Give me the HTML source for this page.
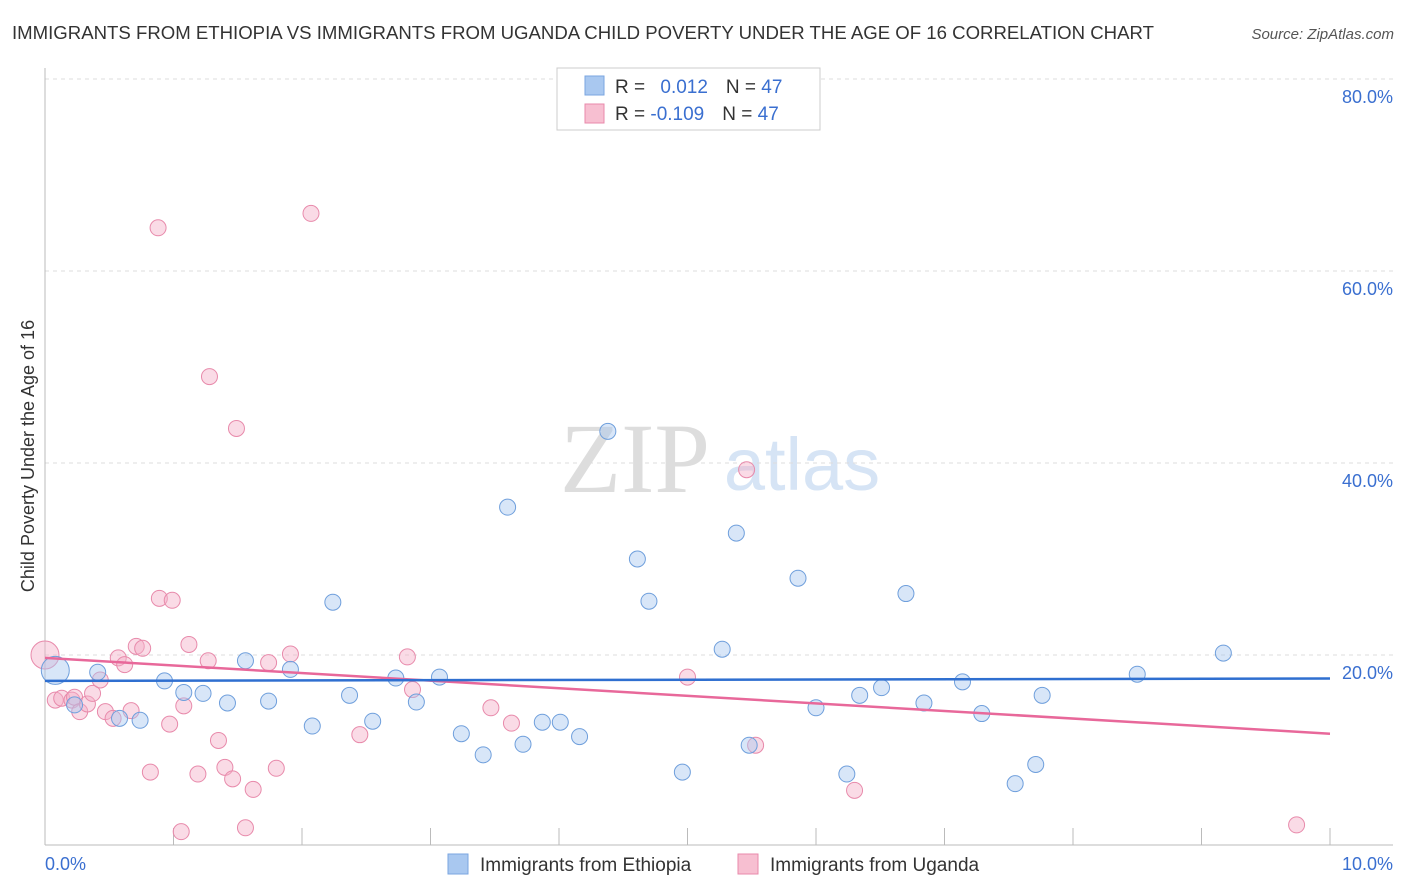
<!DOCTYPE html>
<html><head><meta charset="utf-8"><style>
body{margin:0;background:#fff;font-family:"Liberation Sans",sans-serif;}
svg{display:block}
</style></head><body>
<svg width="1406" height="892">
<text x="12" y="39" font-size="18.6" fill="#333">IMMIGRANTS FROM ETHIOPIA VS IMMIGRANTS FROM UGANDA CHILD POVERTY UNDER THE AGE OF 16 CORRELATION CHART</text>
<text x="1394" y="39" font-size="15" fill="#555" font-style="italic" text-anchor="end">Source: ZipAtlas.com</text>
<text x="635" y="492" font-size="100" fill="#ddd" font-family="Liberation Serif,serif" text-anchor="middle">ZIP</text>
<text x="802" y="490" font-size="74" fill="#d6e4f5" text-anchor="middle">atlas</text>
<g id="grid"></g>
<g id="axes"></g>
<text transform="translate(34,456) rotate(-90)" font-size="18" fill="#333" text-anchor="middle">Child Poverty Under the Age of 16</text>
<g id="marks"></g>
<g>
<rect x="557" y="68" width="263" height="62" fill="#fff" stroke="#ccc"/>
<rect x="585" y="76" width="19" height="19" fill="#a9c8f0" stroke="#7aa6e0"/>
<rect x="585" y="104" width="19" height="19" fill="#f7bfd1" stroke="#e88aab"/>
<text x="615" y="93" font-size="19" fill="#333">R = <tspan fill="#3a6fd0" dx="10">0.012</tspan><tspan dx="18" fill="#333">N = </tspan><tspan fill="#3a6fd0">47</tspan></text>
<text x="615" y="120" font-size="19" fill="#333">R = <tspan fill="#3a6fd0">-0.109</tspan><tspan dx="18" fill="#333">N = </tspan><tspan fill="#3a6fd0">47</tspan></text>
</g>
<g>
<rect x="448" y="854" width="20" height="20" fill="#a9c8f0" stroke="#7aa6e0"/>
<text x="480" y="871" font-size="19" fill="#333">Immigrants from Ethiopia</text>
<rect x="738" y="854" width="20" height="20" fill="#f7bfd1" stroke="#e88aab"/>
<text x="770" y="871" font-size="19" fill="#333">Immigrants from Uganda</text>
</g>
</svg>
<script>
const ethX=[0.08,0.41,0.23,0.58,0.74,0.93,1.08,1.23,1.42,1.56,1.74,1.91,2.08,2.24,2.37,2.55,2.73,2.89,3.07,3.24,3.41,3.60,3.72,3.87,4.01,4.16,4.38,4.61,4.70,4.96,5.27,5.38,5.48,5.86,6.00,6.24,6.34,6.51,6.70,6.84,7.14,7.29,7.55,7.71,7.76,8.50,9.17];
const ethY=[18.4,18.2,14.8,13.4,13.2,17.3,16.1,16.0,15.0,19.4,15.2,18.5,12.6,25.5,15.8,13.1,17.6,15.1,17.7,11.8,9.6,35.4,10.7,13.0,13.0,11.5,43.3,30.0,25.6,7.8,20.6,32.7,10.6,28.0,14.5,7.6,15.8,16.6,26.4,15.0,17.2,13.9,6.6,8.6,15.8,18.0,20.2];
const ugaX=[0.00,0.08,0.13,0.21,0.23,0.27,0.33,0.37,0.43,0.47,0.53,0.57,0.62,0.67,0.71,0.76,0.82,0.88,0.89,0.99,0.97,1.06,1.08,1.12,1.19,1.27,1.28,1.35,1.40,1.46,1.49,1.56,1.62,1.74,1.80,1.91,2.07,2.45,2.82,2.86,3.47,3.63,5.00,5.46,5.53,6.30,9.74];
const ugaY=[20.0,15.3,15.5,15.3,15.6,14.1,14.9,16.0,17.4,14.1,13.4,19.7,19.0,14.2,20.9,20.7,7.8,64.5,25.9,25.7,12.8,1.6,14.7,21.1,7.6,19.4,49.0,11.1,8.3,7.1,43.6,2.0,6.0,19.2,8.2,20.1,66.0,11.7,19.8,16.4,14.5,12.9,17.7,39.3,10.6,5.9,2.3];
const ethTrend=[17.3,17.55];
const ugaTrend=[19.7,11.8];
const yTicks=[20,40,60,80];
const yTickLabels=["20.0%","40.0%","60.0%","80.0%"];
const xTickLabels=["0.0%","10.0%"];
const NS="http://www.w3.org/2000/svg";
const X0=45,X1=1330,Y0=847,PPY=9.6;
const sx=v=>X0+(X1-X0)*v/10, sy=v=>Y0-v*PPY;
function mk(tag,attrs,parent){const e=document.createElementNS(NS,tag);for(const k in attrs)e.setAttribute(k,attrs[k]);document.getElementById(parent).appendChild(e);return e;}
yTicks.forEach((t,i)=>{
 const l=mk('line',{x1:45,x2:1393,y1:sy(t),y2:sy(t),stroke:'#ddd','stroke-dasharray':'4,4'},'grid');
 
 
 const tx=mk('text',{x:1393,y:sy(t)+24,'font-size':18,fill:'#3a6fd0','text-anchor':'end'},'grid');
 tx.textContent=yTickLabels[i];
 
 
});
let a=mk('line',{x1:45,x2:45,y1:68,y2:845,stroke:'#bbb'},'axes');


a=mk('line',{x1:45,x2:1393,y1:845,y2:845,stroke:'#bbb'},'axes');


for(let i=0;i<=10;i++){
 const t=mk('line',{x1:sx(i),x2:sx(i),y1:845,y2:828,stroke:'#bbb'},'axes');
 
 
}
[[0,'start',45],[10,'end',1393]].forEach((d,i)=>{
 const t=mk('text',{x:d[2],y:870,'font-size':18,fill:'#3a6fd0','text-anchor':d[1]},'axes');
 t.textContent=xTickLabels[i];
 
 
});
function pts(xs,ys,fill,stroke,name){
 xs.forEach((x,i)=>{
  const r=(i===0)?14:8;
  const c=mk('circle',{cx:sx(x),cy:sy(ys[i]),r:r,fill:fill,'fill-opacity':0.45,stroke:stroke,'stroke-width':1},'marks');
  
  
 });
}
pts(ugaX,ugaY,'#f4b0c7','#e88aab','uganda-point');
pts(ethX,ethY,'#a9c8f0','#6f9fdc','ethiopia-point');
let tl=mk('line',{x1:sx(0),x2:sx(10),y1:sy(ugaTrend[0]),y2:sy(ugaTrend[1]),stroke:'#e8689a','stroke-width':2.5},'marks');


tl=mk('line',{x1:sx(0),x2:sx(10),y1:sy(ethTrend[0]),y2:sy(ethTrend[1]),stroke:'#2f6fd0','stroke-width':2.5},'marks');


</script>
</body></html>
